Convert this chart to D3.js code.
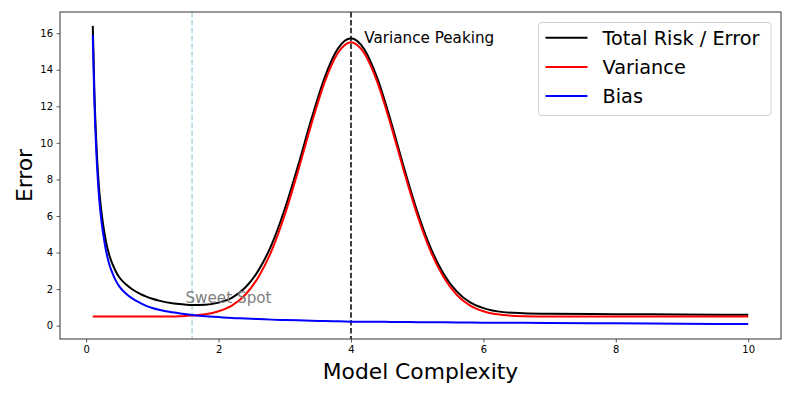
<!DOCTYPE html>
<html>
<head>
<meta charset="utf-8">
<script src="https://cdn.jsdelivr.net/npm/d3@7"></script>
<style>
  body { margin: 0; background: #fff; }
  svg { font-family: "DejaVu Sans", sans-serif; }
</style>
</head>
<body>
<svg id="chart" width="793" height="397"></svg>
<script>
// model complexity sample points
const complexity = [0.1, 0.125, 0.15, 0.176, 0.2, 0.23, 0.26, 0.3, 0.35, 0.4, 0.45, 0.5, 0.6, 0.7, 0.8, 0.9, 1.0, 1.1, 1.3, 1.45,
  1.6, 1.8, 2.0, 2.2, 2.4, 2.6, 2.8, 3.0, 3.2, 3.4, 3.6, 3.8, 4.0, 4.2, 4.4, 4.6, 4.8, 5.0, 5.2, 5.4,
  5.6, 5.8, 6.0, 6.3, 6.6, 7.0, 8.0, 9.0, 10.0];

const bias = [15.9, 12.2, 9.8, 8.0, 6.8, 5.75, 4.95, 4.1, 3.35, 2.85, 2.45, 2.15, 1.76, 1.48, 1.27, 1.1, 0.97, 0.87, 0.73, 0.65,
  0.58, 0.52, 0.47, 0.42, 0.39, 0.36, 0.33, 0.31, 0.29, 0.27, 0.25, 0.235, 0.22, 0.215, 0.21, 0.205, 0.2, 0.19, 0.185, 0.18,
  0.175, 0.17, 0.165, 0.16, 0.155, 0.145, 0.125, 0.105, 0.085];

const variance = [0.5, 0.5, 0.5, 0.5, 0.5, 0.5, 0.5, 0.5, 0.5, 0.5, 0.5, 0.5, 0.5, 0.5, 0.5, 0.5, 0.5, 0.5, 0.5, 0.52,
  0.55, 0.62, 0.79, 1.10, 1.68, 2.65, 4.09, 6.07, 8.45, 11.0, 13.3, 14.9, 15.5, 14.9, 13.3, 11.0, 8.45, 6.07, 4.09, 2.65,
  1.68, 1.10, 0.79, 0.58, 0.52, 0.5, 0.5, 0.5, 0.5];

const total = [16.4, 12.7, 10.3, 8.5, 7.3, 6.25, 5.45, 4.6, 3.85, 3.35, 2.95, 2.65, 2.26, 1.98, 1.77, 1.6, 1.47, 1.37, 1.23, 1.17,
  1.13, 1.14, 1.26, 1.52, 2.07, 3.01, 4.42, 6.38, 8.74, 11.27, 13.55, 15.14, 15.72, 15.12, 13.51, 11.21, 8.65, 6.26, 4.28, 2.83,
  1.86, 1.27, 0.96, 0.74, 0.68, 0.65, 0.63, 0.61, 0.59];

const xTicks = [0, 2, 4, 6, 8, 10];
const yTicks = [0, 2, 4, 6, 8, 10, 12, 14, 16];

const seriesNames = ["Total Risk / Error", "Variance", "Bias"];
const seriesColors = ["black", "red", "blue"];
const seriesValues = [total, variance, bias];

const sweetSpotX = 1.6;
const peakX = 4;

const svg = d3.select("#chart");
const margin = {left: 60, right: 12, top: 12, bottom: 58};
const W = 793, H = 397;

const x = d3.scaleLinear().domain([-0.395, 10.495]).range([margin.left, W - margin.right]);
const y = d3.scaleLinear().domain([-0.73, 17.16]).range([H - margin.bottom, margin.top]);

// axes
const xAxis = svg.append("g")
  .attr("transform", `translate(0,${H - margin.bottom})`)
  .call(d3.axisBottom(x).tickValues(xTicks).tickFormat(d3.format("d")).tickSize(3.5).tickPadding(3.5));
const yAxis = svg.append("g")
  .attr("transform", `translate(${margin.left},0)`)
  .call(d3.axisLeft(y).tickValues(yTicks).tickFormat(d3.format("d")).tickSize(3.5).tickPadding(3.5));
[xAxis, yAxis].forEach(g => {
  g.select(".domain").remove();
  g.selectAll(".tick line").attr("stroke", "#333").attr("stroke-width", 0.8);
  g.selectAll(".tick text").attr("font-size", 10).attr("fill", "#000").attr("font-family", "DejaVu Sans");
});

// reference lines
svg.append("line")
  .attr("x1", x(sweetSpotX)).attr("x2", x(sweetSpotX))
  .attr("y1", margin.top).attr("y2", H - margin.bottom)
  .attr("stroke", "lightblue").attr("stroke-width", 1.5).attr("stroke-dasharray", "5.5,2.4");
svg.append("line")
  .attr("x1", x(peakX)).attr("x2", x(peakX))
  .attr("y1", margin.top).attr("y2", H - margin.bottom)
  .attr("stroke", "black").attr("stroke-width", 1.5).attr("stroke-dasharray", "5.5,2.4");

// curves
const line = d3.line()
  .x((d, i) => x(complexity[i]))
  .y(d => y(d))
  .curve(d3.curveMonotoneX);

svg.append("g")
  .selectAll("path")
  .data(seriesValues)
  .join("path")
  .attr("d", line)
  .attr("fill", "none")
  .attr("stroke", (d, i) => seriesColors[i])
  .attr("stroke-width", 2);

// annotations
svg.append("text")
  .attr("x", x(1.5)).attr("y", y(1.25))
  .attr("font-size", 15.2).attr("fill", "gray")
  .text("Sweet Spot");
svg.append("text")
  .attr("x", x(4.2)).attr("y", y(15.48))
  .attr("font-size", 15.2).attr("fill", "black")
  .text("Variance Peaking");

// frame
svg.append("rect")
  .attr("x", margin.left).attr("y", margin.top)
  .attr("width", W - margin.left - margin.right)
  .attr("height", H - margin.top - margin.bottom)
  .attr("fill", "none").attr("stroke", "#333").attr("stroke-width", 1);

// axis labels
svg.append("text")
  .attr("x", (margin.left + W - margin.right) / 2).attr("y", 378.5)
  .attr("text-anchor", "middle").attr("font-size", 21.8)
  .text("Model Complexity");
svg.append("text")
  .attr("transform", `translate(31.5,${(margin.top + H - margin.bottom) / 2}) rotate(-90)`)
  .attr("text-anchor", "middle").attr("font-size", 21.8)
  .text("Error");

// legend
const legend = svg.append("g").attr("transform", "translate(538.5,22.5)");
legend.append("rect")
  .attr("width", 232.5).attr("height", 93)
  .attr("rx", 3).attr("fill", "white").attr("fill-opacity", 0.8)
  .attr("stroke", "#d0d0d0").attr("stroke-width", 1);
const item = legend.selectAll("g.item")
  .data(seriesNames)
  .join("g")
  .attr("class", "item")
  .attr("transform", (d, i) => `translate(0,${15.2 + i * 29.2})`);
item.append("line")
  .attr("x1", 7).attr("x2", 49)
  .attr("stroke", (d, i) => seriesColors[i]).attr("stroke-width", 2);
item.append("text")
  .attr("x", 64).attr("y", 7.2)
  .attr("font-size", 19.3)
  .text(d => d);
</script>
</body>
</html>
